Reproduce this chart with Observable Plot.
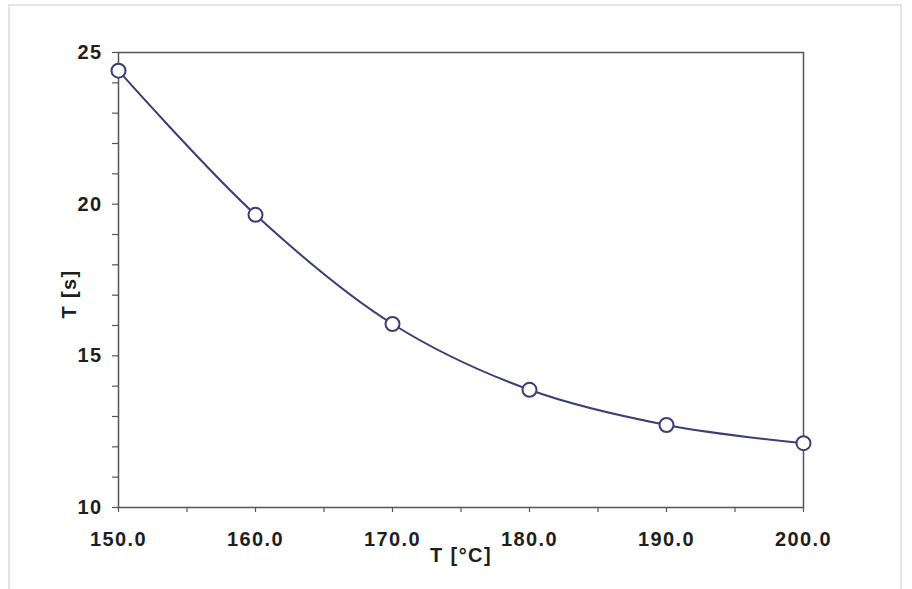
<!DOCTYPE html>
<html>
<head>
<meta charset="utf-8">
<script src="https://cdn.jsdelivr.net/npm/d3@7"></script>
<script src="https://cdn.jsdelivr.net/npm/@observablehq/plot@0.6"></script>
<style>
  html, body { margin: 0; padding: 0; background: #fff; }
  #wrap { position: relative; width: 912px; height: 589px; overflow: hidden; }
  #border { position: absolute; left: 8px; top: 4px; width: 894px; height: 600px; border: 2px solid #e4e4e4; box-sizing: border-box; }
  #chart { position: absolute; left: 0; top: 0; }
  #chart svg text { font-family: "Liberation Sans", Arial, sans-serif; font-weight: bold; font-size: 20px; letter-spacing: 1.4px; fill: #1e1e1e; }
</style>
</head>
<body>
<div id="wrap">
  <div id="border"></div>
  <div id="chart"></div>
</div>
<script>
const temperatures = [150, 160, 170, 180, 190, 200];
const times = [24.4, 19.65, 16.05, 13.88, 12.72, 12.12];
const xTicks = [150, 155, 160, 165, 170, 175, 180, 185, 190, 195, 200];
const yTicks = [10, 11, 12, 13, 14, 15, 16, 17, 18, 19, 20, 21, 22, 23, 24, 25];
const xLabel = "T [°C]";
const yLabel = "T [s]";

const data = temperatures.map((t, i) => ({t, s: times[i]}));
const lineColor = "#3c3c78";
const axisColor = "#555";

const chart = Plot.plot({
  width: 912,
  height: 589,
  marginLeft: 118,
  marginRight: 109,
  marginTop: 52,
  marginBottom: 82,
  x: {domain: [150, 200]},
  y: {domain: [10, 25]},
  style: {background: "transparent", overflow: "visible"},
  marks: [
    Plot.frame({stroke: axisColor, strokeWidth: 1.5}),
    Plot.axisX(xTicks, {
      tickSize: 5, tickPadding: 19, stroke: axisColor, strokeWidth: 1.2,
      tickFormat: d => d % 10 === 0 ? d.toFixed(1) : "", label: null
    }),
    Plot.axisY(yTicks, {
      tickSize: 6, tickPadding: 10, stroke: axisColor, strokeWidth: 1.2,
      tickFormat: d => d % 5 === 0 ? String(d) : "", label: null
    }),
    Plot.line(data, {x: "t", y: "s", curve: "catmull-rom", stroke: lineColor, strokeWidth: 2}),
    Plot.dot(data, {x: "t", y: "s", r: 7, fill: "white", stroke: lineColor, strokeWidth: 2}),
    Plot.text([xLabel], {frameAnchor: "bottom", textAnchor: "middle", dy: 54, text: d => d}),
    Plot.text([yLabel], {frameAnchor: "left", textAnchor: "middle", dx: -49, dy: 14, rotate: -90, text: d => d})
  ]
});
document.getElementById("chart").appendChild(chart);
</script>
</body>
</html>
